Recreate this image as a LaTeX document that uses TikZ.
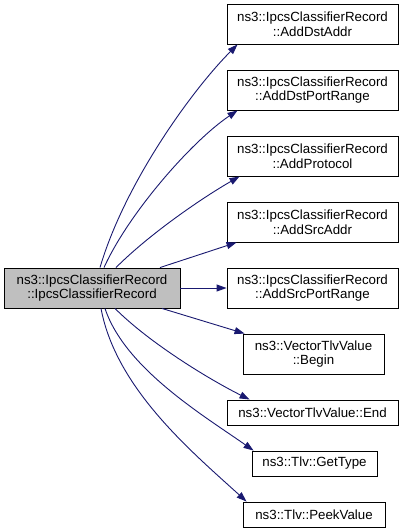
\documentclass[tikz,border=0pt]{standalone}
\usepackage{fontspec}
\setmainfont{Liberation Sans}
\usetikzlibrary{positioning,arrows.meta}
\definecolor{callblue}{HTML}{191970}
\definecolor{mainfill}{HTML}{BFBFBF}

\begin{document}
\begin{tikzpicture}[x=1pt,y=-1pt,
  fn/.style={draw=black,line width=0.9pt,fill=white,align=center,inner sep=0pt,
    font=\fontsize{13.3}{14.5}\selectfont,minimum height=40pt},
  fnone/.style={fn,minimum height=25pt,inner xsep=7pt},
  call/.style={draw=callblue,line width=0.9pt,-{Triangle[length=10pt,width=7pt]}}]
\useasboundingbox (0,0) rectangle (405,531);
\node[fn,fill=mainfill,minimum width=176pt] (rec) at (92,288) {ns3::IpcsClassifierRecord\\::IpcsClassifierRecord};
\node[fn,minimum width=171pt] (dstaddr) at (312.5,24) {ns3::IpcsClassifierRecord\\::AddDstAddr};
\node[fn,minimum width=171pt] (dstport) at (312.5,90) {ns3::IpcsClassifierRecord\\::AddDstPortRange};
\node[fn,minimum width=171pt] (proto) at (312.5,156) {ns3::IpcsClassifierRecord\\::AddProtocol};
\node[fn,minimum width=171pt] (srcaddr) at (312.5,222) {ns3::IpcsClassifierRecord\\::AddSrcAddr};
\node[fn,minimum width=171pt] (srcport) at (312.5,288) {ns3::IpcsClassifierRecord\\::AddSrcPortRange};
\node[fn,minimum width=141pt] (begin) at (313.5,354) {ns3::VectorTlvValue\\::Begin};
\node[fnone,minimum width=171pt] (vend) at (312.5,412.5) {ns3::VectorTlvValue::End};
\node[fnone,minimum width=125pt] (gettype) at (314.5,463.5) {ns3::Tlv::GetType};
\node[fnone,minimum width=142pt] (peek) at (314,514.5) {ns3::Tlv::PeekValue};
% calls
\draw[call] ([xshift=8pt]rec.north) .. controls +(25,-85) and +(-45,45) .. ([xshift=11pt]dstaddr.south west);
\draw[call] ([xshift=12pt]rec.north) .. controls +(25,-55) and +(-45,30) .. ([xshift=11pt]dstport.south west);
\draw[call] ([xshift=24pt]rec.north) .. controls +(35,-35) and +(-35,20) .. ([xshift=13pt]proto.south west);
\draw[call] ([xshift=68pt]rec.north) -- ([xshift=10pt]srcaddr.south west);
\draw[call] (rec.east) -- (srcport.west);
\draw[call] ([xshift=70pt]rec.south) -- ([xshift=2pt]begin.north west);
\draw[call] ([xshift=23pt]rec.south) .. controls +(35,35) and +(-40,-20) .. ([xshift=23pt]vend.north west);
\draw[call] ([xshift=13pt]rec.south) .. controls +(20,60) and +(-50,-35) .. ([xshift=2pt]gettype.north west);
\draw[call] ([xshift=9pt]rec.south) .. controls +(15,80) and +(-55,-50) .. ([xshift=4pt]peek.north west);
\end{tikzpicture}
\end{document}
